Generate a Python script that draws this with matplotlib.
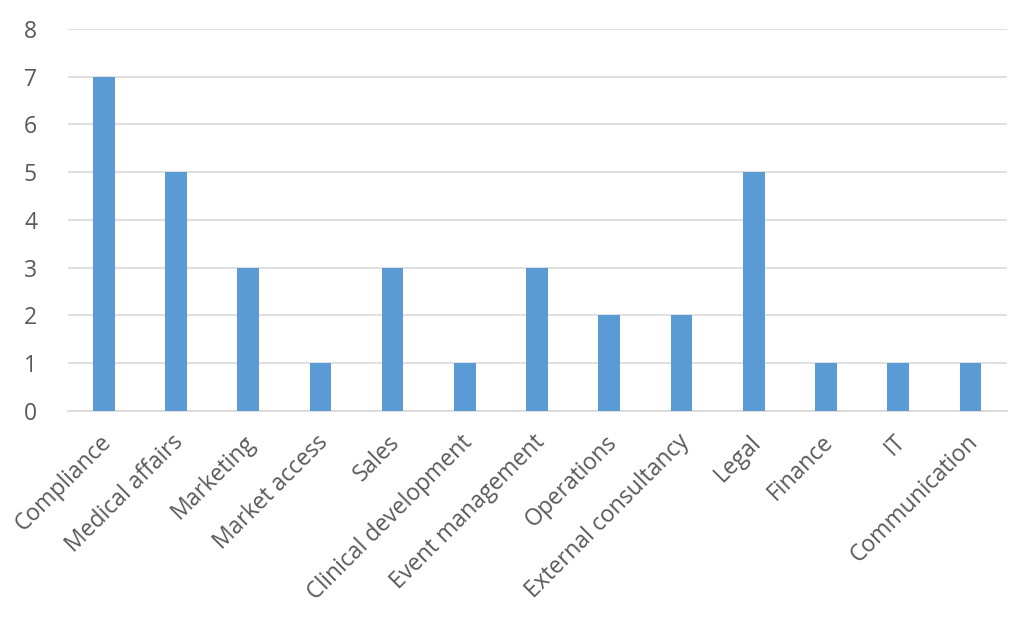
import matplotlib
matplotlib.use("Agg")
import matplotlib.pyplot as plt
import matplotlib.transforms as mtransforms
import numpy as np

categories = ["Compliance", "Medical affairs", "Marketing", "Market access", "Sales",
              "Clinical development", "Event management", "Operations",
              "External consultancy", "Legal", "Finance", "IT", "Communication"]
counts = [7, 5, 3, 1, 3, 1, 3, 2, 2, 5, 1, 1, 1]

plt.rcParams['font.family'] = ['Open Sans', 'DejaVu Sans']
text_color = '#595959'

fig = plt.figure(figsize=(10.24, 6.17), dpi=100)
ax = fig.add_axes([0.066, 0.334, 0.917, 0.619])

x = np.arange(len(categories))
ax.bar(x, counts, width=0.3, color='#5b9bd5', zorder=3)

ax.set_xlim(-0.5, len(categories) - 0.5)
ax.set_ylim(0, 8)
ax.set_yticks(range(0, 9))
ax.grid(axis='y', color='#d9d9d9', linewidth=1.2, zorder=0)

for s in ['top', 'right', 'left']:
    ax.spines[s].set_visible(False)
ax.spines['bottom'].set_color('#d9d9d9')
ax.spines['bottom'].set_linewidth(1.2)

ax.tick_params(axis='both', length=0, labelsize=16.5, labelcolor=text_color)
ax.tick_params(axis='y', pad=22)
ax.set_xticks(x)
ax.set_xticklabels(categories, rotation=45, ha='right', va='center', rotation_mode='anchor')
ax.tick_params(axis='x', pad=20)

# nudge labels a little to the right
shift = mtransforms.ScaledTranslation(4 / 100, 0, fig.dpi_scale_trans)
for lbl in ax.get_xticklabels():
    lbl.set_transform(lbl.get_transform() + shift)

fig.savefig('out.png', dpi=100)
